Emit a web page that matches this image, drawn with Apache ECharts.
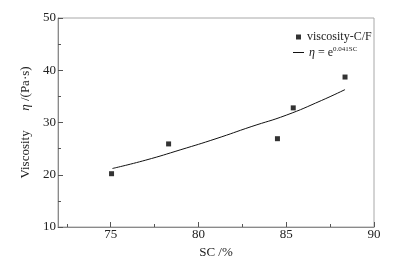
<!DOCTYPE html>
<html>
<head>
<meta charset="utf-8">
<script src="https://cdn.jsdelivr.net/npm/echarts@6/dist/echarts.min.js"></script>
<style>
  html, body { margin: 0; padding: 0; background: #fff; }
  #main { width: 403px; height: 268px; }
</style>
</head>
<body>
<div id="main"></div>
<script>
// measured points (SC %, viscosity Pa·s)
var measured = [[75.05, 20.2], [78.3, 25.9], [84.5, 26.9], [85.4, 32.8], [88.35, 38.7]];
// fitted curve
var fitLine = [[75.1, 21.2], [77, 22.8], [79, 24.8], [81, 26.9], [83, 29.2], [85, 31.4], [87, 34.2], [88.35, 36.3]];
var xMajor = [75, 80, 85, 90];
var xMinor = [72.5, 77.5, 82.5, 87.5];

var font = 'Liberation Serif';
var axisColor = '#8a8a8a';
var textColor = '#222';

var chart = echarts.init(document.getElementById('main'));
chart.setOption({
  animation: false,
  textStyle: { fontFamily: font },
  grid: {
    left: 58, right: 29, top: 18, bottom: 41,
    show: true, borderColor: '#a8a8a8', borderWidth: 1
  },
  legend: [
    {
      data: ['viscosity-C/F'],
      left: 291, top: 26,
      itemWidth: 5, itemHeight: 5, itemGap: 0,
      icon: 'rect',
      textStyle: { fontFamily: font, fontSize: 12, color: textColor, padding: [0, 0, 0, 1] }
    },
    {
      data: [{ name: 'fit', icon: 'rect' }],
      left: 288, top: 41,
      itemWidth: 11, itemHeight: 1,
      textStyle: {
        fontFamily: font, fontSize: 12, color: textColor,
        rich: {
          i: { fontFamily: font, fontStyle: 'italic', fontSize: 12, color: textColor },
          s: { fontFamily: font, fontSize: 7, color: textColor, verticalAlign: 'top', padding: [0, 0, 6, 0] }
        }
      },
      formatter: function () { return '{i|η} = e{s|0.041SC}'; }
    }
  ],
  xAxis: [
    {
      type: 'value', min: 72, max: 90,
      name: 'SC /%', nameLocation: 'middle', nameGap: 13,
      nameTextStyle: { fontFamily: font, fontSize: 13, color: textColor },
      axisLine: { lineStyle: { color: axisColor } },
      axisTick: { inside: true, length: 5, customValues: xMajor, lineStyle: { color: '#555' } },
      axisLabel: { customValues: xMajor, margin: 1, fontFamily: font, fontSize: 13, color: textColor },
      splitLine: { show: false }
    },
    {
      type: 'value', min: 72, max: 90, position: 'bottom',
      axisLine: { show: false },
      axisTick: { inside: true, length: 3, customValues: xMinor, lineStyle: { color: '#555' } },
      axisLabel: { show: false },
      splitLine: { show: false }
    }
  ],
  yAxis: {
    type: 'value', min: 10, max: 50, interval: 10,
    name: '{a|Viscosity}      {b|η} /(Pa·s)', nameLocation: 'middle', nameGap: 23,
    nameTextStyle: {
      fontFamily: font, fontSize: 13, color: textColor,
      rich: {
        a: { fontFamily: font, fontSize: 13, color: textColor },
        b: { fontFamily: font, fontSize: 13, fontStyle: 'italic', color: textColor }
      }
    },
    axisLine: { show: true, lineStyle: { color: axisColor } },
    axisTick: { show: true, inside: true, length: 5, lineStyle: { color: '#555' } },
    minorTick: { show: true, splitNumber: 2, length: 3, lineStyle: { color: '#555' } },
    axisLabel: { margin: 2, fontFamily: font, fontSize: 13, color: textColor },
    splitLine: { show: false }
  },
  series: [
    {
      name: 'viscosity-C/F', type: 'scatter',
      symbol: 'rect', symbolSize: 5,
      itemStyle: { color: '#000' },
      data: measured
    },
    {
      name: 'fit', type: 'line', smooth: true,
      symbol: 'none',
      lineStyle: { color: '#111', width: 1 },
      itemStyle: { color: '#111' },
      data: fitLine
    }
  ]
});
</script>
</body>
</html>
